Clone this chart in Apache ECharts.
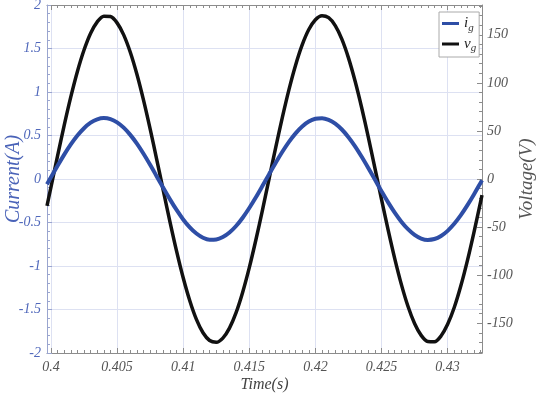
<!DOCTYPE html>
<html><head><meta charset="utf-8">
<script src="https://cdn.jsdelivr.net/npm/echarts@6/dist/echarts.min.js"></script>
<style>html,body{margin:0;padding:0;background:#fff}#c{width:537px;height:398px}</style>
</head><body><div id="c"></div>
<script>
// time (s)
const time = [0.3997,
  0.4000,0.4005,0.4010,0.4015,0.4020,0.4025,0.4030,0.4035,0.4040,0.4045,
  0.4050,0.4055,0.4060,0.4065,0.4070,0.4075,0.4080,0.4085,0.4090,0.4095,
  0.4100,0.4105,0.4110,0.4115,0.4120,0.4125,0.4130,0.4135,0.4140,0.4145,
  0.4150,0.4155,0.4160,0.4165,0.4170,0.4175,0.4180,0.4185,0.4190,0.4195,
  0.4200,0.4205,0.4210,0.4215,0.4220,0.4225,0.4230,0.4235,0.4240,0.4245,
  0.4250,0.4255,0.4260,0.4265,0.4270,0.4275,0.4280,0.4285,0.4290,0.4295,
  0.4300,0.4305,0.4310,0.4315,0.4320,0.4325,0.4326];
// grid current i_g (A)
const current = [-0.061,
  0.019,0.152,0.280,0.397,0.500,0.584,0.647,0.686,0.700,0.688,
  0.651,0.590,0.507,0.406,0.290,0.163,0.030,-0.104,-0.234,-0.356,
  -0.465,-0.556,-0.627,-0.675,-0.698,-0.695,-0.667,-0.615,-0.540,-0.445,
  -0.333,-0.210,-0.078,0.056,0.188,0.313,0.427,0.525,0.604,0.660,
  0.692,0.699,0.680,0.637,0.569,0.481,0.376,0.256,0.127,-0.007,
  -0.140,-0.269,-0.387,-0.491,-0.577,-0.642,-0.684,-0.700,-0.690,-0.655,
  -0.596,-0.515,-0.416,-0.301,-0.175,-0.042,-0.015];
// grid voltage v_g (V)
const voltage = [-27.9,
  -8.4,24.1,55.8,85.4,111.9,134.2,151.7,163.5,169.4,169.0,
  162.4,149.9,131.8,108.9,82.0,52.1,20.2,-12.3,-44.5,-75.0,
  -102.7,-126.6,-146.0,-159.9,-168.0,-169.9,-165.5,-155.1,-139.0,-117.7,
  -92.2,-63.2,-32.0,0.5,32.9,64.1,93.0,118.4,139.5,155.5,
  165.7,169.9,167.8,159.6,145.5,126.0,101.9,74.1,43.5,11.4,
  -21.2,-53.0,-82.8,-109.6,-132.4,-150.3,-162.7,-169.1,-169.3,-163.3,
  -151.2,-133.7,-111.1,-84.6,-54.9,-23.2,-16.7];

const timeTicks = [0.4,0.405,0.41,0.415,0.42,0.425,0.43];
const voltTicks = [-150,-100,-50,0,50,100,150];

const tMin = 0.3997, tMax = 0.4326, vMin = -181, vMax = 181;
const timeMinor = []; for (let k = 0; k <= 66; k++) timeMinor.push(+(0.4 + k*0.0005).toFixed(4));
const voltMinor = []; for (let k = -18; k <= 18; k++) voltMinor.push(k*10);

const serif = 'Liberation Serif';
const gridCol = '#dde1f2';
const frameCol = '#8c8c8c';
const lbl = {fontFamily: serif, fontStyle: 'italic', fontSize: 14, color: '#555'};

const chart = echarts.init(document.getElementById('c'), null, {renderer: 'canvas'});
chart.setOption({
  animation: false,
  backgroundColor: '#fff',
  grid: {left: 47, right: 55, top: 5, bottom: 45, containLabel: false, outerBoundsMode: 'none'},
  legend: {
    left: 439, top: 12, orient: 'vertical',
    backgroundColor: '#fff', borderColor: '#aaa', borderWidth: 1,
    padding: [4, 3, 3, 3], itemGap: 3, itemWidth: 17, itemHeight: 3,
    icon: 'rect',
    formatter: n => n === 'ig' ? '{a|i}{b|g}' : '{a|v}{b|g}',
    textStyle: {
      rich: {
        a: {fontFamily: serif, fontStyle: 'italic', fontSize: 15, color: '#222', lineHeight: 20},
        b: {fontFamily: serif, fontStyle: 'italic', fontSize: 11, color: '#333', padding: [9, 0, 0, 0]}
      }
    },
    data: ['ig', 'vg']
  },
  xAxis: [
    {type: 'value', position: 'bottom', min: tMin, max: tMax,
     axisLine: {show: true, onZero: false, lineStyle: {color: frameCol, width: 1}},
     axisTick: {show: true, inside: true, length: 5, customValues: timeTicks, lineStyle: {color: frameCol}},
     axisLabel: {show: true, customValues: timeTicks, margin: 7, ...lbl,
                 formatter: v => String(parseFloat((+v).toFixed(4)))},
     splitLine: {show: true, lineStyle: {color: gridCol, width: 1}},
     name: 'Time(s)', nameLocation: 'middle', nameGap: 24, nameMoveOverlap: false,
     nameTextStyle: {fontFamily: serif, fontStyle: 'italic', fontSize: 16, color: '#444'}},
    {type: 'value', position: 'bottom', min: tMin, max: tMax,
     axisLine: {show: false, onZero: false}, axisLabel: {show: false}, splitLine: {show: false},
     axisTick: {show: true, inside: true, length: 3, customValues: timeMinor, lineStyle: {color: frameCol}}},
    {type: 'value', position: 'top', min: tMin, max: tMax,
     axisLine: {show: true, onZero: false, lineStyle: {color: frameCol, width: 1}},
     axisLabel: {show: false}, splitLine: {show: false},
     axisTick: {show: true, inside: true, length: 5, customValues: timeTicks, lineStyle: {color: frameCol}}},
    {type: 'value', position: 'top', min: tMin, max: tMax,
     axisLine: {show: false, onZero: false}, axisLabel: {show: false}, splitLine: {show: false},
     axisTick: {show: true, inside: true, length: 3, customValues: timeMinor, lineStyle: {color: frameCol}}}
  ],
  yAxis: [
    {type: 'value', position: 'left', min: -2, max: 2, interval: 0.5,
     axisLine: {show: true, onZero: false, lineStyle: {color: '#9aa5cf', width: 1}},
     axisTick: {show: true, inside: true, length: 5, lineStyle: {color: '#9aa5cf'}},
     minorTick: {show: true, splitNumber: 5, length: 3, lineStyle: {color: '#9aa5cf'}},
     axisLabel: {margin: 6, fontFamily: serif, fontStyle: 'italic', fontSize: 14, color: '#5068bb'},
     splitLine: {show: true, lineStyle: {color: gridCol, width: 1}},
     name: 'Current(A)', nameLocation: 'middle', nameGap: 23, nameMoveOverlap: false,
     nameTextStyle: {fontFamily: serif, fontStyle: 'italic', fontSize: 20, color: '#4a63b8'}},
    {type: 'value', position: 'right', min: vMin, max: vMax,
     axisLine: {show: true, onZero: false, lineStyle: {color: frameCol, width: 1}},
     axisTick: {show: true, inside: true, length: 5, customValues: voltTicks, lineStyle: {color: frameCol}},
     axisLabel: {show: true, customValues: voltTicks, margin: 5, ...lbl},
     splitLine: {show: false},
     name: 'Voltage(V)', nameLocation: 'middle', nameGap: 35, nameMoveOverlap: false,
     nameTextStyle: {fontFamily: serif, fontStyle: 'italic', fontSize: 19, color: '#555'}},
    {type: 'value', position: 'right', min: vMin, max: vMax,
     axisLine: {show: false, onZero: false}, axisLabel: {show: false}, splitLine: {show: false},
     axisTick: {show: true, inside: true, length: 3, customValues: voltMinor, lineStyle: {color: frameCol}}}
  ],
  series: [
    {name: 'ig', type: 'line', xAxisIndex: 0, yAxisIndex: 0, smooth: 0.3, symbol: 'none',
     data: time.map((t, i) => [t, current[i]]),
     lineStyle: {color: '#2e4ea6', width: 4, join: 'round'}, itemStyle: {color: '#2e4ea6'}, z: 3},
    {name: 'vg', type: 'line', xAxisIndex: 0, yAxisIndex: 1, smooth: 0.3, symbol: 'none',
     data: time.map((t, i) => [t, voltage[i]]),
     lineStyle: {color: '#111111', width: 3.5, join: 'round'}, itemStyle: {color: '#111111'}, z: 2}
  ]
});
</script>
</body></html>
